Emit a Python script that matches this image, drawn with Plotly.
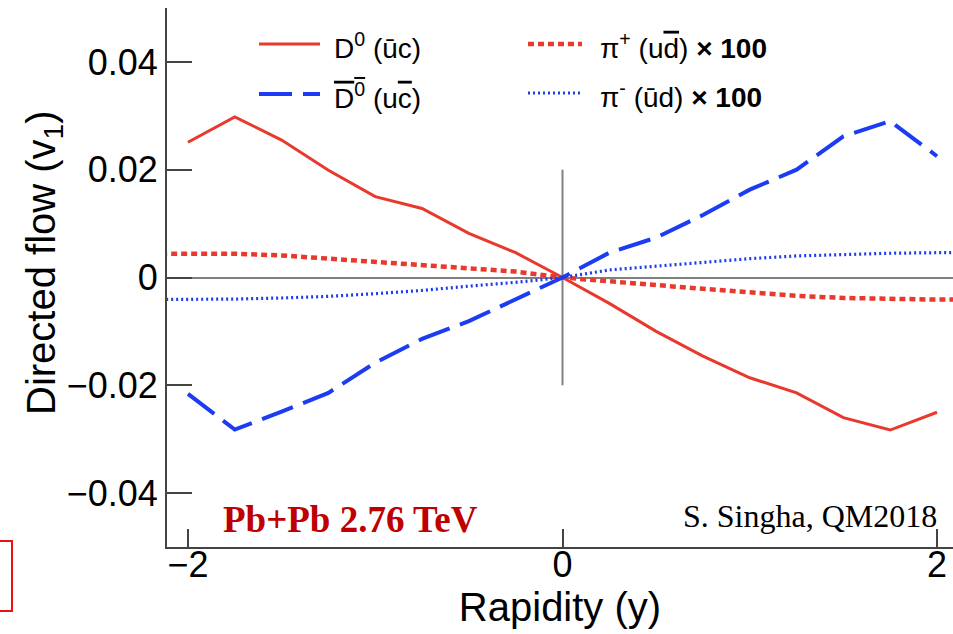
import plotly.graph_objects as go

# ---------------- data ----------------
rapidity = [-2.0, -1.75, -1.5, -1.25, -1.0, -0.75, -0.5, -0.25, 0.0,
            0.25, 0.5, 0.75, 1.0, 1.25, 1.5, 1.75, 2.0]
v1_D0 = [0.0251, 0.0298, 0.0255, 0.0199, 0.0150, 0.0128, 0.0082, 0.0046, 0.0,
         -0.0048, -0.0100, -0.0146, -0.0186, -0.0214, -0.0260, -0.0283, -0.0250]
v1_D0bar = [-0.0216, -0.0282, -0.0249, -0.0214, -0.0158, -0.0114, -0.0081, -0.0041, 0.0,
            0.0046, 0.0074, 0.0116, 0.0163, 0.0200, 0.0262, 0.0290, 0.0225]

rapidity_pi = [-2.25, -2.0, -1.75, -1.5, -1.25, -1.0, -0.75, -0.5, -0.25, 0.0,
               0.25, 0.5, 0.75, 1.0, 1.25, 1.5, 1.75, 2.0, 2.25]
v1_piplus_x100 = [0.0044, 0.0044, 0.0044, 0.0041, 0.0035, 0.0028, 0.0023, 0.0018, 0.0011, 0.0,
                  -0.0008, -0.0014, -0.0021, -0.0028, -0.0034, -0.0038, -0.0040, -0.0041, -0.0041]
v1_piminus_x100 = [-0.0041, -0.0041, -0.0040, -0.0038, -0.0035, -0.0030, -0.0024, -0.0016, -0.0009, 0.0,
                   0.0014, 0.0021, 0.0028, 0.0035, 0.0040, 0.0043, 0.0045, 0.0046, 0.0046]

x_tickvals = [-2, 0, 2]
x_ticktext = ["\u22122", "0", "2"]
y_tickvals = [-0.04, -0.02, 0, 0.02, 0.04]
y_ticktext = ["\u22120.04", "\u22120.02", "0", "0.02", "0.04"]

x_title = "Rapidity (y)"
y_title = "Directed flow (v<sub>1</sub>)"

labels = {
    "D0": "D<sup>0</sup> (\u016bc)",
    "D0bar": "<span style='text-decoration:overline'>D<sup>0</sup></span> (u<span style='text-decoration:overline'>c</span>)",
    "piplus": "\u03c0<sup>+</sup> (u<span style='text-decoration:overline'>d</span>) <b>\u00d7 100</b>",
    "piminus": "\u03c0<sup>-</sup> (\u016bd) <b>\u00d7 100</b>",
}

# ---------------- styles ----------------
RED = "#E8392C"
BLUE = "#1B3CF2"
SANS = "Liberation Sans, Arial, Helvetica, sans-serif"
SERIF = "Liberation Serif, Times New Roman, serif"
AXIS = "#444444"

W, H = 953, 634
L, R, T, B = 167, 0, 8, 87
PW, PH = W - L - R, H - T - B


def px(x):
    return (x - L) / PW


def py(y):
    return (H - B - y) / PH


styles = {
    "D0": dict(color=RED, width=3, dash="solid"),
    "D0bar": dict(color=BLUE, width=4, dash="33px,11px"),
    "piplus": dict(color=RED, width=4.5, dash="6px,4px"),
    "piminus": dict(color=BLUE, width=3.2, dash="2px,3px"),
}

fig = go.Figure()
fig.add_trace(go.Scatter(x=rapidity_pi, y=v1_piplus_x100, mode="lines",
                         line=styles["piplus"], name="pi+", showlegend=False))
fig.add_trace(go.Scatter(x=rapidity_pi, y=v1_piminus_x100, mode="lines",
                         line=styles["piminus"], name="pi-", showlegend=False))
fig.add_trace(go.Scatter(x=rapidity, y=v1_D0, mode="lines",
                         line=styles["D0"], name="D0", showlegend=False))
fig.add_trace(go.Scatter(x=rapidity, y=v1_D0bar, mode="lines",
                         line=styles["D0bar"], name="D0bar", showlegend=False))

shapes = []
# vertical reference line at rapidity 0
shapes.append(dict(type="line", xref="x", yref="y", x0=0, x1=0, y0=-0.02, y1=0.02,
                   line=dict(color="#808080", width=2), layer="below"))

# manual legend
legend_rows = [
    ("D0", 259, 320, 44, 332),
    ("D0bar", 259, 320, 94, 332),
    ("piplus", 528, 582, 44, 598),
    ("piminus", 528, 583, 93, 598),
]
annotations = []
for key, xa, xb, yl, xt in legend_rows:
    st = styles[key]
    shapes.append(dict(type="line", xref="paper", yref="paper",
                       x0=px(xa), x1=px(xb), y0=py(yl), y1=py(yl),
                       line=dict(color=st["color"], width=st["width"], dash=st["dash"])))
    annotations.append(dict(xref="paper", yref="paper", x=px(xt), y=py(yl + 2),
                            xanchor="left", yanchor="middle", showarrow=False,
                            text=labels[key], font=dict(family=SANS, size=28, color="black")))

# red frame fragment at bottom-left
shapes.append(dict(type="rect", xref="paper", yref="paper",
                   x0=px(-2), x1=px(12), y0=py(611), y1=py(541),
                   line=dict(color="#EE1111", width=2)))

annotations.append(dict(xref="paper", yref="paper", x=px(221), y=py(519),
                        xanchor="left", yanchor="middle", showarrow=False,
                        text="<b>Pb+Pb 2.76 TeV</b>",
                        font=dict(family=SERIF, size=37, color="#BE0000")))
annotations.append(dict(xref="paper", yref="paper", x=px(939), y=py(516),
                        xanchor="right", yanchor="middle", showarrow=False,
                        text="S. Singha, QM2018",
                        font=dict(family=SERIF, size=32, color="black")))
# y-axis title
annotations.append(dict(xref="paper", yref="paper", x=px(44), y=py(262),
                        xanchor="center", yanchor="middle", showarrow=False,
                        textangle=-90, text=y_title,
                        font=dict(family=SANS, size=40, color="black")))

fig.update_layout(
    width=W, height=H,
    margin=dict(l=L, r=R, t=T, b=B, autoexpand=False),
    plot_bgcolor="white", paper_bgcolor="white",
    shapes=shapes, annotations=annotations,
    font=dict(family=SANS, color="black"),
)
fig.update_xaxes(
    range=[-2.112, 2.0853], showgrid=False, zeroline=False,
    showline=True, linecolor=AXIS, linewidth=2,
    ticks="inside", ticklen=18, tickwidth=2, tickcolor=AXIS,
    tickvals=x_tickvals, ticktext=x_ticktext,
    tickfont=dict(family=SANS, size=36, color="black"),
    ticklabelstandoff=-15,
    title=dict(text=x_title, font=dict(family=SANS, size=40, color="black"), standoff=4),
)
fig.update_yaxes(
    range=[-0.05, 0.05], showgrid=False,
    zeroline=True, zerolinecolor="#808080", zerolinewidth=2,
    showline=True, linecolor=AXIS, linewidth=2,
    ticks="inside", ticklen=25, tickwidth=2, tickcolor=AXIS,
    tickvals=y_tickvals, ticktext=y_ticktext,
    tickfont=dict(family=SANS, size=36, color="black"),
    ticklabelstandoff=0,
)

fig.write_html("out.html")
